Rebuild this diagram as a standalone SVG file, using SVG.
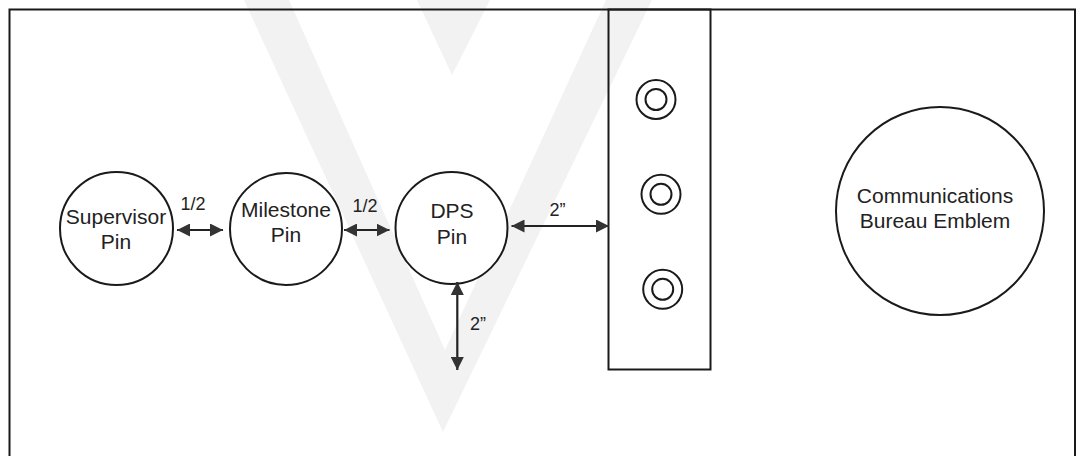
<svg xmlns="http://www.w3.org/2000/svg" width="1076" height="456" viewBox="0 0 1076 456">
<style>
.ln{fill:none;stroke:#1a1a1a;stroke-width:2}
.node{fill:#fff;stroke:#1a1a1a;stroke-width:2}
.lbl{font-family:"Liberation Sans",Arial,sans-serif;font-size:21px;fill:#222;text-anchor:middle}
.dim{font-family:"Liberation Sans",Arial,sans-serif;font-size:18px;fill:#222;text-anchor:middle}
.arr{fill:none;stroke:#222;stroke-width:2.2;marker-start:url(#ah);marker-end:url(#ah)}
</style>
<defs>
<marker id="ah" viewBox="0 0 13 13" refX="13" refY="6.5" markerWidth="13" markerHeight="13" markerUnits="userSpaceOnUse" orient="auto-start-reverse">
<path d="M0,0 L13,6.5 L0,13 z" fill="#333"/>
</marker>
</defs>
<rect width="1076" height="456" fill="#fff"/>
<g id="watermark" fill="#f2f2f2">
<polygon points="244,0 289,0 445,350 606,0 652,0 443,432"/>
<polygon points="417,0 490,0 452,75"/>
</g>
<path id="frame" class="ln" d="M9.5,460 L9.5,9.5 L1075,9.5 L1075,460"/>
<g id="panel">
<rect x="608.5" y="9.5" width="102" height="360" class="ln"/>
<circle cx="656" cy="99.5" r="19.5" class="ln" stroke-width="1.8"/>
<circle cx="656" cy="99.5" r="10.5" class="ln" stroke-width="1.8"/>
<circle cx="661" cy="194.3" r="19.5" class="ln" stroke-width="1.8"/>
<circle cx="661" cy="194.3" r="10.5" class="ln" stroke-width="1.8"/>
<circle cx="662.7" cy="289.3" r="19.5" class="ln" stroke-width="1.8"/>
<circle cx="662.7" cy="289.3" r="10.5" class="ln" stroke-width="1.8"/>
</g>
<g id="supervisor">
<circle cx="116.5" cy="228.5" r="56.5" class="node"/>
<text class="lbl" x="116" y="223.5">Supervisor</text>
<text class="lbl" x="116" y="249">Pin</text>
</g>
<g id="milestone">
<circle cx="286" cy="229" r="56" class="node"/>
<text class="lbl" x="286" y="217">Milestone</text>
<text class="lbl" x="286" y="242">Pin</text>
</g>
<g id="dps">
<circle cx="451.5" cy="228" r="56" class="node"/>
<text class="lbl" x="452" y="218">DPS</text>
<text class="lbl" x="452" y="243.5">Pin</text>
</g>
<g id="emblem">
<circle cx="940" cy="211" r="104" class="node"/>
<text class="lbl" x="935" y="202.5">Communications</text>
<text class="lbl" x="935" y="227.5">Bureau Emblem</text>
</g>
<g id="connectors">
<line class="arr" x1="177" y1="230" x2="223" y2="230"/>
<line class="arr" x1="344" y1="230" x2="389.5" y2="230"/>
<line class="arr" x1="511.5" y1="226" x2="609" y2="226"/>
<line class="arr" x1="457.3" y1="282" x2="457.3" y2="370"/>
<text class="dim" x="193" y="210">1/2</text>
<text class="dim" x="365" y="212.3">1/2</text>
<text class="dim" x="557.5" y="216">2”</text>
<text class="dim" x="478" y="330">2”</text>
</g>
</svg>
